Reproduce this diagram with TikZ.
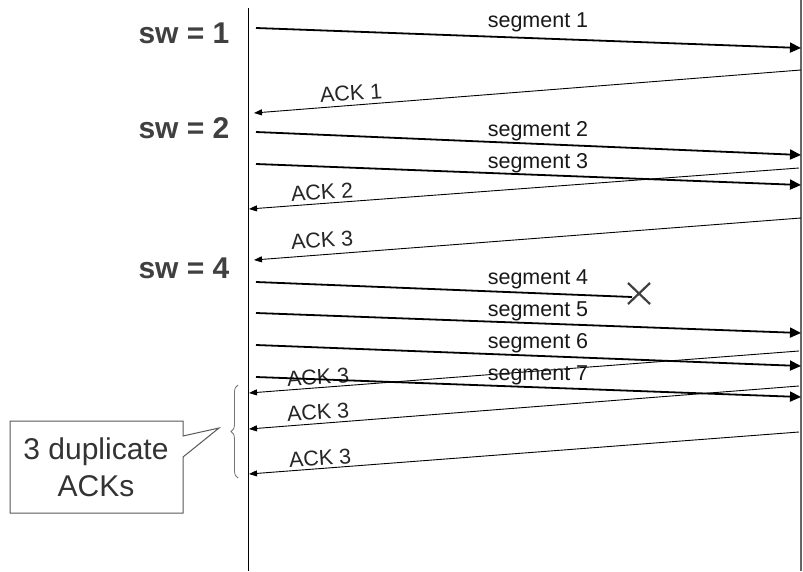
\documentclass[tikz,border=0pt]{standalone}
\usepackage{fontspec}
\setmainfont{Liberation Sans}
\usetikzlibrary{arrows.meta,decorations.pathreplacing}
\begin{document}
\begin{tikzpicture}[x=1pt,y=-1pt,
  seg/.style={line width=1.8pt,-{Triangle[length=11pt,width=10pt]}},
  ack/.style={line width=0.9pt,-{Triangle[length=8pt,width=6pt]}},
  seglab/.style={font=\fontsize{21.5}{24}\selectfont,text=black!90,inner sep=0pt},
  acklab/.style={font=\fontsize{21.5}{24}\selectfont,text=black!85,inner sep=0pt,rotate=4},
  swlab/.style={font=\fontsize{30}{32}\selectfont\bfseries,text=black!75,inner sep=0pt},
  calltext/.style={font=\fontsize{30}{37}\selectfont,text=black!80,align=center,inner sep=0pt}]
\useasboundingbox[fill=white] (0,0) rectangle (803,571);
% time lines
\coordinate (lt) at (248,8);  \coordinate (lb) at (248,571);
\coordinate (rt) at (801,0);  \coordinate (rb) at (801,571);
\draw[line width=1pt] (lt) -- (lb);
\draw[line width=1.2pt,black!60] (rt) -- (rb);
% window labels
\node[swlab] (sw1) at (184,33) {sw = 1};
\node[swlab] (sw2) at (184,128) {sw = 2};
\node[swlab] (sw4) at (184,268) {sw = 4};
% segment 1
\coordinate (s1a) at (256,28);  \coordinate (s1b) at (801,48);
\draw[seg] (s1a) -- (s1b);
\node[seglab] (l1) at (538,22) {segment 1};
% ACK 1
\coordinate (a1a) at (801,70);  \coordinate (a1b) at (254,113);
\draw[ack] (a1a) -- (a1b);
\node[acklab] (k1) at (351,93) {ACK 1};
% segment 2, 3
\coordinate (s2a) at (256,132);  \coordinate (s2b) at (801,155);
\draw[seg] (s2a) -- (s2b);
\node[seglab] (l2) at (538,131) {segment 2};
\coordinate (s3a) at (256,164);  \coordinate (s3b) at (801,185);
\draw[seg] (s3a) -- (s3b);
\node[seglab] (l3) at (538,163) {segment 3};
% ACK 2, 3
\coordinate (a2a) at (799,168);  \coordinate (a2b) at (249,209);
\draw[ack] (a2a) -- (a2b);
\node[acklab] (k2) at (322,192) {ACK 2};
\coordinate (a3a) at (801,218);  \coordinate (a3b) at (254,260);
\draw[ack] (a3a) -- (a3b);
\node[acklab] (k3) at (322,240) {ACK 3};
% segment 4 (lost)
\coordinate (s4a) at (256,282);  \coordinate (s4b) at (632,297);
\draw[line width=1.8pt] (s4a) -- (s4b);
\node[seglab] (l4) at (538,279) {segment 4};
\coordinate (xa) at (628,283); \coordinate (xb) at (650,304);
\coordinate (xc) at (650,283); \coordinate (xd) at (628,304);
\draw[line width=2.2pt,black!75] (xa) -- (xb) (xc) -- (xd);
% segments 5, 6, 7
\coordinate (s5a) at (256,313);  \coordinate (s5b) at (801,333);
\draw[seg] (s5a) -- (s5b);
\node[seglab] (l5) at (538,311) {segment 5};
\coordinate (s6a) at (256,345);  \coordinate (s6b) at (801,366);
\draw[seg] (s6a) -- (s6b);
\node[seglab] (l6) at (538,343) {segment 6};
% duplicate ACKs
\coordinate (a4a) at (799,351);  \coordinate (a4b) at (249,393);
\draw[ack] (a4a) -- (a4b);
\node[acklab] (k4) at (318,377) {ACK 3};
\coordinate (s7a) at (256,377);  \coordinate (s7b) at (801,397);
\draw[seg] (s7a) -- (s7b);
\node[seglab] (l7) at (538,375) {segment 7};
\coordinate (a5a) at (799,386);  \coordinate (a5b) at (249,429);
\draw[ack] (a5a) -- (a5b);
\node[acklab] (k5) at (318,412) {ACK 3};
\coordinate (a6a) at (799,432);  \coordinate (a6b) at (249,474);
\draw[ack] (a6a) -- (a6b);
\node[acklab] (k6) at (320,458) {ACK 3};
% brace
\coordinate (bb) at (238,478); \coordinate (bt) at (238,385);
\draw[black!55,line width=0.8pt,decorate,decoration={brace,amplitude=7pt}] (bb) -- (bt);
% callout
\coordinate (c1) at (10,421); \coordinate (c2) at (183,421);
\coordinate (c3) at (183,436); \coordinate (tip) at (219,428);
\coordinate (c4) at (183,457); \coordinate (c5) at (183,513);
\coordinate (c6) at (10,513);
\draw[black!65,line width=1pt] (c1) -- (c2) -- (c3) -- (tip) -- (c4) -- (c5) -- (c6) -- cycle;
\node[calltext] (call) at (96,467) {3 duplicate\\ACKs};
\end{tikzpicture}
\end{document}
